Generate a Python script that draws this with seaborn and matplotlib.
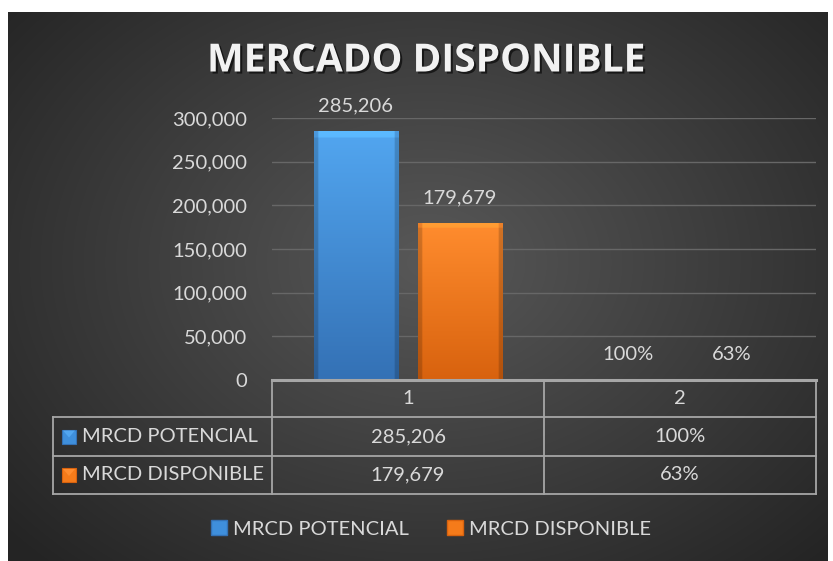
"""
Mercado disponible - grafico de barras con tabla de datos (estilo Excel oscuro)
"""

import numpy as np
import pandas as pd
import matplotlib
matplotlib.use("Agg")
import matplotlib.pyplot as plt
import seaborn as sns
from matplotlib import patheffects
from matplotlib.patches import Rectangle, Patch

# ─────────────────────────────────────────
# Datos
# ─────────────────────────────────────────
categorias = ["1", "2"]
series = ["MRCD POTENCIAL", "MRCD DISPONIBLE"]
mrcd_potencial = [285206, 1.00]
mrcd_disponible = [179679, 0.63]
formatos = ["{:,.0f}", "{:.0%}"]          # formato de etiqueta por categoria
yticks = [0, 50000, 100000, 150000, 200000, 250000, 300000]
titulo = "MERCADO DISPONIBLE"

colores = ["#3f8fdc", "#f57b1a"]
colores_top = ["#52a6f0", "#ff8c2e"]
colores_bot = ["#3471b5", "#d8620e"]
TXT = "#d9d9d9"
LINEA = "#a6a6a6"

plt.rcParams["font.family"] = ["Lato", "DejaVu Sans"]

W, H = 833, 561


def fx(px):
    return px / W


def fy(py):
    return 1 - py / H


df = pd.DataFrame({
    "categoria": categorias * 2,
    "serie": [series[0]] * len(categorias) + [series[1]] * len(categorias),
    "valor": mrcd_potencial + mrcd_disponible,
})

fig = plt.figure(figsize=(W / 100, H / 100), dpi=100, facecolor="white")

# fondo con degradado radial
bg = fig.add_axes([fx(8), 0, 820 / W, 549 / H])
yy, xx = np.mgrid[0:549, 0:820]
r = np.sqrt(((xx - 420) / 560) ** 2 + ((yy - 250) / 420) ** 2)
r = np.clip(r, 0, 1)
c0, c1 = np.array([0x58, 0x58, 0x58]) / 255, np.array([0x24, 0x24, 0x24]) / 255
img = c0[None, None, :] * (1 - r[..., None]) + c1[None, None, :] * r[..., None]
bg.imshow(img, aspect="auto", extent=(0, 820, 549, 0))
bg.axis("off")

# ─────────────────────────────────────────
# Barras
# ─────────────────────────────────────────
ax = fig.add_axes([fx(272), fy(380), 544 / W, 262 / H])
ax.patch.set_alpha(0)
sns.barplot(data=df, x="categoria", y="valor", hue="serie", palette=colores,
            width=0.765, gap=0.19, saturation=1, legend=False, ax=ax)

# degradado + bisel en cada barra
for k, cont in enumerate(ax.containers):
    top = np.array(matplotlib.colors.to_rgb(colores_top[k]))
    bot = np.array(matplotlib.colors.to_rgb(colores_bot[k]))
    for bar in cont:
        x0, w = bar.get_x(), bar.get_width()
        h = bar.get_height()
        if h <= 0:
            continue
        t = np.linspace(0, 1, 100)[:, None]
        grad = top[None, None, :] * (1 - t[..., None]) + bot[None, None, :] * t[..., None]
        grad = np.repeat(grad, 40, axis=1)
        u = np.abs(np.linspace(-1, 1, 40))
        edge = np.where(u > 0.9, 0.82, 1.0)
        grad = grad * edge[None, :, None]
        grad[:3] = np.minimum(grad[:3] * 1.12, 1)
        im = ax.imshow(np.clip(grad, 0, 1), aspect="auto", extent=(x0, x0 + w, 0, h),
                       zorder=bar.get_zorder() + 0.1)
        im.set_clip_path(bar)

ax.set_xlim(-0.5, len(categorias) - 0.5)
ax.set_ylim(0, 300000)
ax.set_yticks(yticks)
ax.set_yticklabels([f"{v:,.0f}" for v in yticks], color=TXT, fontsize=14.5)
ax.tick_params(axis="y", length=0, pad=18)
ax.tick_params(axis="x", length=0, labelbottom=False)
ax.set_xlabel("")
ax.set_ylabel("")
for s in ax.spines.values():
    s.set_visible(False)
ax.yaxis.grid(True, color="#676767", lw=1)
ax.set_axisbelow(True)

for k, cont in enumerate(ax.containers):
    vals = [mrcd_potencial, mrcd_disponible][k]
    labels = [formatos[j].format(v) for j, v in enumerate(vals)]
    ax.bar_label(cont, labels=labels, padding=12, color=TXT, fontsize=14.5)

# ─────────────────────────────────────────
# Tabla de datos
# ─────────────────────────────────────────
tab = fig.add_axes([fx(53), fy(494), (816 - 53) / W, (494 - 380) / H])
tab.set_xlim(53, 816)
tab.set_ylim(494, 380)
tab.axis("off")
tab.patch.set_alpha(0)

cols = [272, 544, 816]
rows = [380, 417, 456, 494]
tab.plot([272, 816], [380, 380], color=LINEA, lw=2.2, clip_on=False)
for yv in rows[1:]:
    tab.plot([53, 816], [yv, yv], color=LINEA, lw=1.3, clip_on=False)
for xv in cols:
    tab.plot([xv, xv], [380, 494], color=LINEA, lw=1.3, clip_on=False)
tab.plot([53, 53], [417, 494], color=LINEA, lw=1.3, clip_on=False)

for j, cat in enumerate(categorias):
    cx = (cols[j] + cols[j + 1]) / 2
    tab.text(cx, (rows[0] + rows[1]) / 2, cat, ha="center", va="center",
             color=TXT, fontsize=14.5)

for k, vals in enumerate([mrcd_potencial, mrcd_disponible]):
    cy = (rows[k + 1] + rows[k + 2]) / 2
    tab.add_patch(Rectangle((62, cy - 7), 14, 14, facecolor=colores[k],
                            edgecolor=colores_bot[k], lw=0.8))
    tab.add_patch(plt.Polygon([(63, cy - 6), (75, cy - 6), (69, cy + 1)],
                              facecolor=colores_top[k], edgecolor="none"))
    tab.text(82, cy, series[k], ha="left", va="center", color=TXT, fontsize=14.5)
    for j, v in enumerate(vals):
        cx = (cols[j] + cols[j + 1]) / 2
        tab.text(cx, cy, formatos[j].format(v), ha="center", va="center",
                 color=TXT, fontsize=14.5)

# ─────────────────────────────────────────
# Leyenda y titulo
# ─────────────────────────────────────────
handles = [Patch(facecolor=colores[k], edgecolor=colores_bot[k]) for k in range(2)]
fig.legend(handles, series, ncol=2, loc="center", bbox_to_anchor=(fx(431), fy(529)),
           frameon=False, handlelength=0.8, handleheight=0.7, handletextpad=0.3,
           columnspacing=1.9, fontsize=14.5, labelcolor=TXT)

fig.text(fx(426), fy(61), titulo, ha="center", va="center", fontsize=28,
         fontweight="bold", color="#f2f2f2", family=["Open Sans", "DejaVu Sans"],
         path_effects=[patheffects.withSimplePatchShadow(offset=(1.5, -1.5),
                                                         shadow_rgbFace="black",
                                                         alpha=0.6)])

fig.savefig("out.png", dpi=100, facecolor="white")
